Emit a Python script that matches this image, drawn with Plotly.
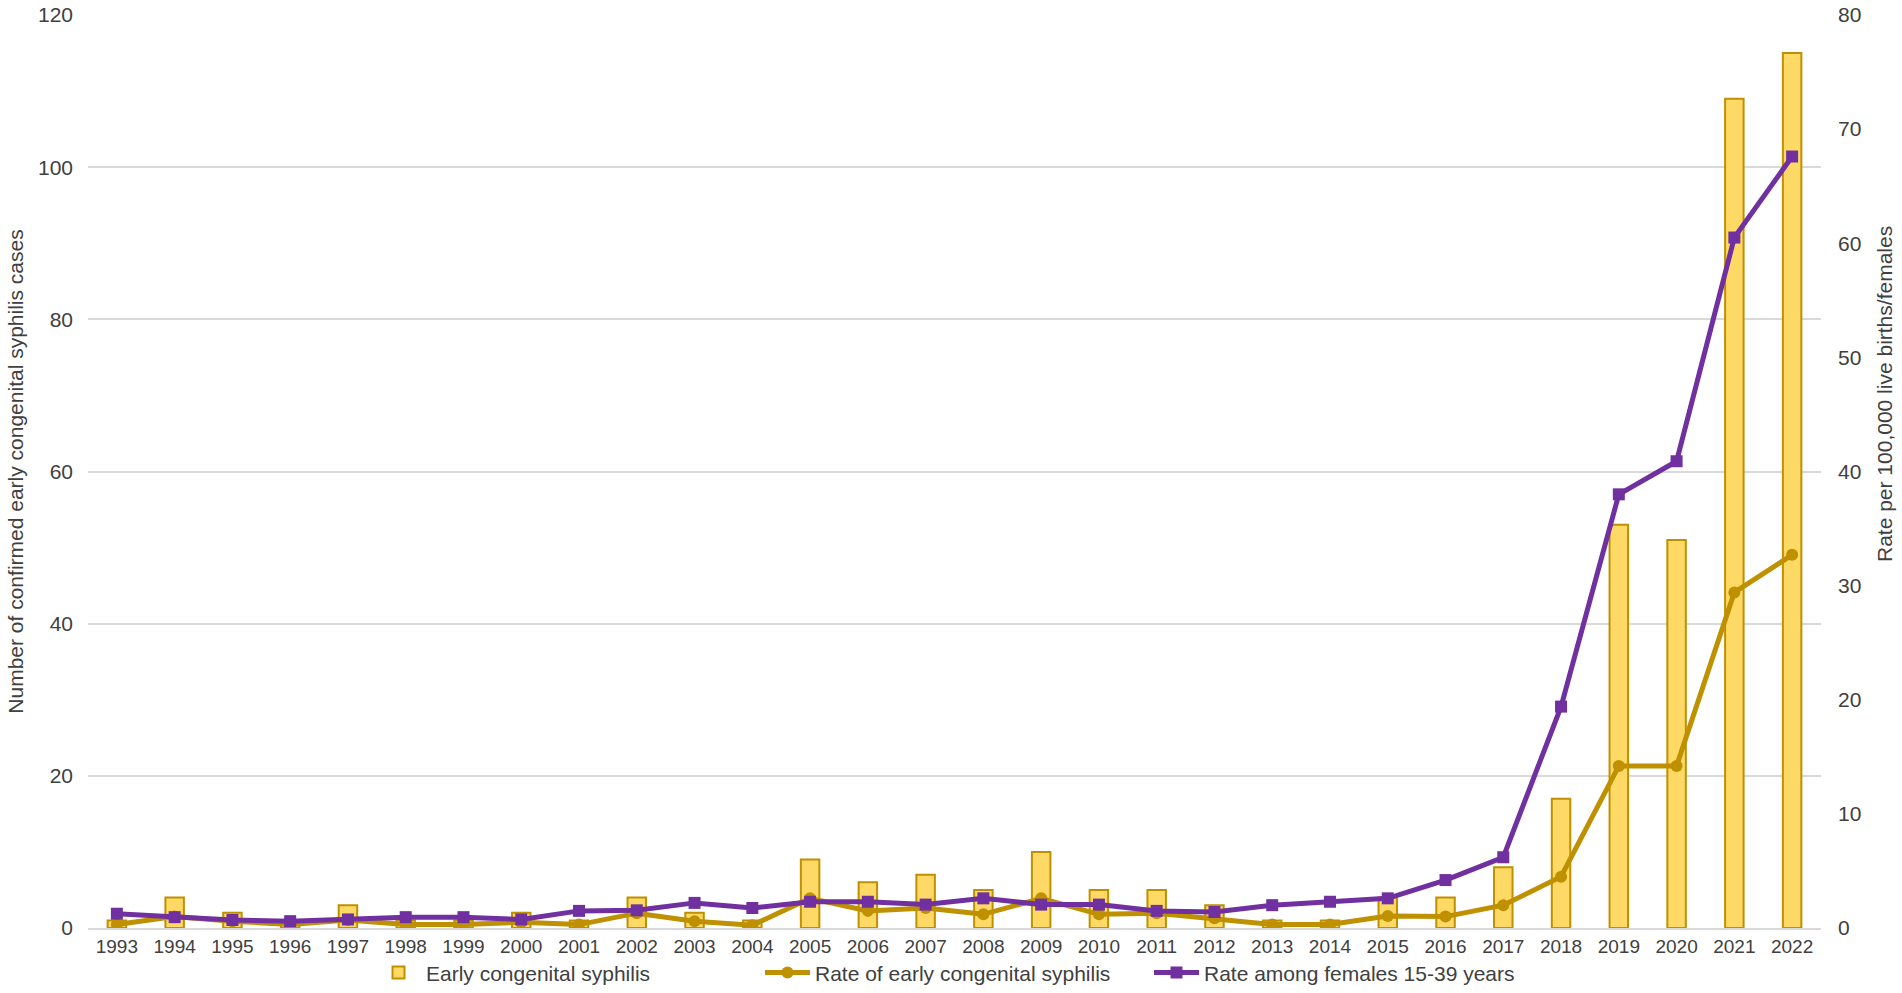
import plotly.graph_objects as go

years = [str(y) for y in range(1993, 2023)]
cases = [1, 4, 2, 1, 3, 1, 1, 2, 1, 4,
         2, 1, 9, 6, 7, 5, 10, 5, 5, 3,
         1, 1, 4, 4, 8, 17, 53, 51, 109, 115]
rate_births = [0.3, 1.0, 0.6, 0.3, 0.7, 0.3, 0.3, 0.5, 0.3, 1.3,
               0.6, 0.25, 2.6, 1.5, 1.75, 1.2, 2.6, 1.2, 1.3, 0.85,
               0.3, 0.3, 1.05, 1.0, 2.0, 4.5, 14.2, 14.2, 29.4, 32.7]
rate_females = [1.25, 0.95, 0.7, 0.6, 0.75, 0.95, 0.95, 0.75, 1.5, 1.55,
                2.2, 1.75, 2.3, 2.3, 2.05, 2.6, 2.05, 2.05, 1.5, 1.4,
                2.0, 2.3, 2.6, 4.2, 6.2, 19.4, 38.0, 40.9, 60.5, 67.6]

GOLD = "#BF9000"
BARFILL = "#FFD966"
PURPLE = "#7030A0"
TXT = "#404040"
REG = "Liberation Sans, Arial, sans-serif"

fig = go.Figure()
fig.add_trace(go.Bar(x=years, y=cases, name="Early congenital syphilis",
                     marker=dict(color=BARFILL, line=dict(color=GOLD, width=2)),
                     yaxis="y"))
fig.add_trace(go.Scatter(x=years, y=rate_births, name="Rate of early congenital syphilis",
                         mode="lines+markers", line=dict(color=GOLD, width=5),
                         marker=dict(symbol="circle", size=12, color=GOLD),
                         yaxis="y2"))
fig.add_trace(go.Scatter(x=years, y=rate_females, name="Rate among females 15-39 years",
                         mode="lines+markers", line=dict(color=PURPLE, width=5),
                         marker=dict(symbol="square", size=12, color=PURPLE),
                         yaxis="y2"))

fig.update_layout(
    width=1902, height=993,
    paper_bgcolor="white", plot_bgcolor="white",
    margin=dict(l=88, r=81, t=15, b=65, autoexpand=False),
    bargap=0.68,
    font=dict(family=REG, color=TXT, size=16),
    xaxis=dict(type="category", range=[-0.5, 29.5], showgrid=False, showline=True,
               linecolor="#D9D9D9", linewidth=2, ticks="",
               tickfont=dict(family=REG, size=19, color=TXT), automargin=False),
    yaxis=dict(range=[0, 120], dtick=20, showgrid=True, gridcolor="#D9D9D9", gridwidth=1.5,
               zeroline=False, showline=False, ticks="", automargin=False,
               ticklabelstandoff=14,
               tickfont=dict(family=REG, size=21, color=TXT),
               title=dict(text="Number of confirmed early congenital syphilis cases",
                          font=dict(family=REG, size=21, color=TXT), standoff=8)),
    yaxis2=dict(range=[0, 80], dtick=10, overlaying="y", side="right", showgrid=False,
                zeroline=False, showline=False, ticks="", automargin=False,
                ticklabelstandoff=16,
                tickfont=dict(family=REG, size=21, color=TXT)),
    annotations=[dict(text="Rate per 100,000 live births/females", textangle=-90,
                      xref="paper", yref="paper", x=1.037, y=0.585,
                      xanchor="center", yanchor="middle", showarrow=False,
                      font=dict(family=REG, size=21, color=TXT))],
    legend=dict(orientation="h", x=0.5, xanchor="center", y=-0.049, yanchor="middle",
                font=dict(family=REG, size=21, color=TXT), itemwidth=45,
                entrywidth=329, entrywidthmode="pixels",
                traceorder="normal", bgcolor="rgba(0,0,0,0)"),
    showlegend=True,
)

fig.write_html("out.html", post_script="document.body.style.margin='0';",
               config={"displayModeBar": False})
